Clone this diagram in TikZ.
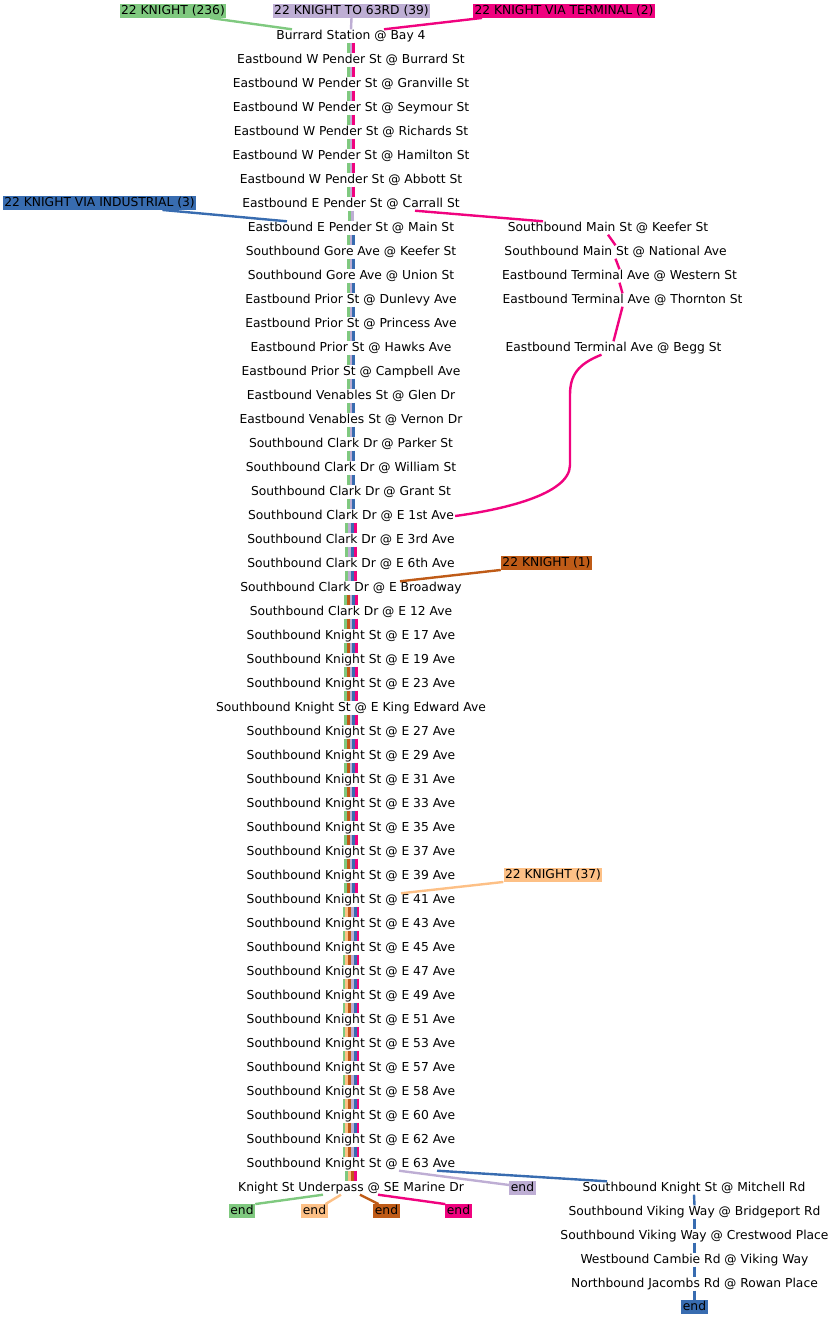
\documentclass[tikz,border=0pt]{standalone}
\usepackage{fontspec}
\setmainfont{DejaVu Sans}
\usetikzlibrary{calc}
\definecolor{cG}{HTML}{7FC97F}
\definecolor{cP}{HTML}{BEAED4}
\definecolor{cO}{HTML}{FDC086}
\definecolor{cB}{HTML}{386CB0}
\definecolor{cK}{HTML}{F0027F}
\definecolor{cBr}{HTML}{BF5B17}
\newcommand\segs[4]{%
  \foreach \a in {#1,...,#2}{%
    \pgfmathtruncatemacro\nxt{\a+1}%
    \foreach \c [count=\k] in {#4}{%
      \pgfmathsetmacro\off{(\k-(#3+1)/2)*2.8}%
      \draw[stripe,draw=\c] ([xshift=\off pt]s\a.south) -- ([xshift=\off pt]s\nxt.north);
    }%
  }%
}
\begin{document}
\begin{tikzpicture}[x=1pt,y=-1pt,
  stop/.style={anchor=base, inner xsep=1pt, inner ysep=0pt, text height=9.5pt, text depth=3.5pt, font=\fontsize{12.3}{14}\selectfont},
  lbl/.style={fill=#1, inner xsep=1.5pt, inner ysep=0.5pt, text height=9.5pt, text depth=3pt, font=\fontsize{12.3}{14}\selectfont},
  stripe/.style={line width=2.8pt},
  edge/.style={line width=2.4pt}]
\useasboundingbox (0,0) rectangle (832,1320);
% left column stops
\foreach \t [count=\i from 0] in {Burrard Station @ Bay 4,
 Eastbound W Pender St @ Burrard St,
 Eastbound W Pender St @ Granville St,
 Eastbound W Pender St @ Seymour St,
 Eastbound W Pender St @ Richards St,
 Eastbound W Pender St @ Hamilton St,
 Eastbound W Pender St @ Abbott St,
 Eastbound E Pender St @ Carrall St,
 Eastbound E Pender St @ Main St,
 Southbound Gore Ave @ Keefer St,
 Southbound Gore Ave @ Union St,
 Eastbound Prior St @ Dunlevy Ave,
 Eastbound Prior St @ Princess Ave,
 Eastbound Prior St @ Hawks Ave,
 Eastbound Prior St @ Campbell Ave,
 Eastbound Venables St @ Glen Dr,
 Eastbound Venables St @ Vernon Dr,
 Southbound Clark Dr @ Parker St,
 Southbound Clark Dr @ William St,
 Southbound Clark Dr @ Grant St,
 Southbound Clark Dr @ E 1st Ave,
 Southbound Clark Dr @ E 3rd Ave,
 Southbound Clark Dr @ E 6th Ave,
 Southbound Clark Dr @ E Broadway,
 Southbound Clark Dr @ E 12 Ave,
 Southbound Knight St @ E 17 Ave,
 Southbound Knight St @ E 19 Ave,
 Southbound Knight St @ E 23 Ave,
 Southbound Knight St @ E King Edward Ave,
 Southbound Knight St @ E 27 Ave,
 Southbound Knight St @ E 29 Ave,
 Southbound Knight St @ E 31 Ave,
 Southbound Knight St @ E 33 Ave,
 Southbound Knight St @ E 35 Ave,
 Southbound Knight St @ E 37 Ave,
 Southbound Knight St @ E 39 Ave,
 Southbound Knight St @ E 41 Ave,
 Southbound Knight St @ E 43 Ave,
 Southbound Knight St @ E 45 Ave,
 Southbound Knight St @ E 47 Ave,
 Southbound Knight St @ E 49 Ave,
 Southbound Knight St @ E 51 Ave,
 Southbound Knight St @ E 53 Ave,
 Southbound Knight St @ E 57 Ave,
 Southbound Knight St @ E 58 Ave,
 Southbound Knight St @ E 60 Ave,
 Southbound Knight St @ E 62 Ave,
 Southbound Knight St @ E 63 Ave,
 Knight St Underpass @ SE Marine Dr}
 { \node[stop] (s\i) at ({351},{39+24*\i}) {\t}; }
% terminal branch
\node[stop] (m1) at (608,231) {Southbound Main St @ Keefer St};
\node[stop] (m2) at (615.5,255) {Southbound Main St @ National Ave};
\node[stop] (m3) at (619.5,279) {Eastbound Terminal Ave @ Western St};
\node[stop] (m4) at (622.5,303) {Eastbound Terminal Ave @ Thornton St};
\node[stop] (m5) at (613.5,351) {Eastbound Terminal Ave @ Begg St};
% industrial branch
\node[stop] (n1) at (694,1191) {Southbound Knight St @ Mitchell Rd};
\node[stop] (n2) at (694.5,1215) {Southbound Viking Way @ Bridgeport Rd};
\node[stop] (n3) at (694.5,1239) {Southbound Viking Way @ Crestwood Place};
\node[stop] (n4) at (694.5,1263) {Westbound Cambie Rd @ Viking Way};
\node[stop] (n5) at (694.5,1287) {Northbound Jacombs Rd @ Rowan Place};
% route labels
\node[lbl=cG] (g236) at (173,11) {22 KNIGHT (236)};
\node[lbl=cP] (p39) at (351.5,11) {22 KNIGHT TO 63RD (39)};
\node[lbl=cK] (k2) at (564,11) {22 KNIGHT VIA TERMINAL (2)};
\node[lbl=cB] (b3) at (99.5,203) {22 KNIGHT VIA INDUSTRIAL (3)};
\node[lbl=cBr] (br1) at (546.5,563) {22 KNIGHT (1)};
\node[lbl=cO] (o37) at (553,875) {22 KNIGHT (37)};
% end markers
\node[lbl=cG] (ge) at (242,1211) {end};
\node[lbl=cO] (oe) at (314.5,1211) {end};
\node[lbl=cBr] (bre) at (386.5,1211) {end};
\node[lbl=cK] (ke) at (458.5,1211) {end};
\node[lbl=cP] (pe) at (522.5,1188) {end};
\node[lbl=cB] (be) at (694.5,1307) {end};
% trunk stripes
\segs{0}{6}{3}{cG,cP,cK}
\segs{7}{7}{2}{cG,cP}
\segs{8}{19}{3}{cG,cP,cB}
\segs{20}{22}{4}{cG,cP,cB,cK}
\segs{23}{35}{5}{cG,cBr,cP,cB,cK}
\segs{36}{46}{6}{cG,cO,cBr,cP,cB,cK}
\segs{47}{47}{4}{cG,cO,cBr,cK}
% label edges
\draw[edge,cG] ($(g236.south)+(37,0)$) -- ($(s0.north)+(-59,0)$);
\draw[edge,cP] (p39.south) -- (s0.north);
\draw[edge,cK] ($(k2.south)+(-82,0)$) -- ($(s0.north)+(33,0)$);
\draw[edge,cB] ($(b3.south)+(63,0)$) -- ($(s8.north)+(-64,0)$);
\draw[edge,cBr] (br1.south west) -- ($(s23.north)+(49,0)$);
\draw[edge,cO] (o37.south west) -- ($(s36.north)+(50,0)$);
% terminal branch edges
\draw[edge,cK] ($(s7.south)+(64,0)$) -- ($(m1.north)+(-65,0)$);
\draw[edge,cK] (m1.south) -- (m2.north);
\draw[edge,cK] (m2.south) -- (m3.north);
\draw[edge,cK] (m3.south) -- (m4.north);
\draw[edge,cK] (m4.south) -- (m5.north);
\draw[edge,cK] ($(m5.south)+(-12,0)$) .. controls (578,364) and (570,375) .. (570,395)
  -- (570,465) .. controls (570,495) and (500,510) .. (s20.east);
% split at E 63 Ave
\draw[edge,cP] ($(s47.south)+(48,0)$) -- ($(pe.west)+(0,-3)$);
\draw[edge,cB] ($(s47.south)+(86,0)$) -- ($(n1.north)+(-87,0)$);
\draw[edge,cB] (n1.south) -- (n2.north);
\draw[edge,cB] (n2.south) -- (n3.north);
\draw[edge,cB] (n3.south) -- (n4.north);
\draw[edge,cB] (n4.south) -- (n5.north);
\draw[edge,cB] (n5.south) -- (be.north);
% ends at SE Marine Dr
\draw[edge,cG] ($(s48.south)+(-28,0)$) -- (ge.north east);
\draw[edge,cO] ($(s48.south)+(-10,0)$) -- ($(oe.north)+(11,0)$);
\draw[edge,cBr] ($(s48.south)+(9,0)$) -- ($(bre.north)+(-8,0)$);
\draw[edge,cK] ($(s48.south)+(27,0)$) -- (ke.north west);
\end{tikzpicture}
\end{document}
